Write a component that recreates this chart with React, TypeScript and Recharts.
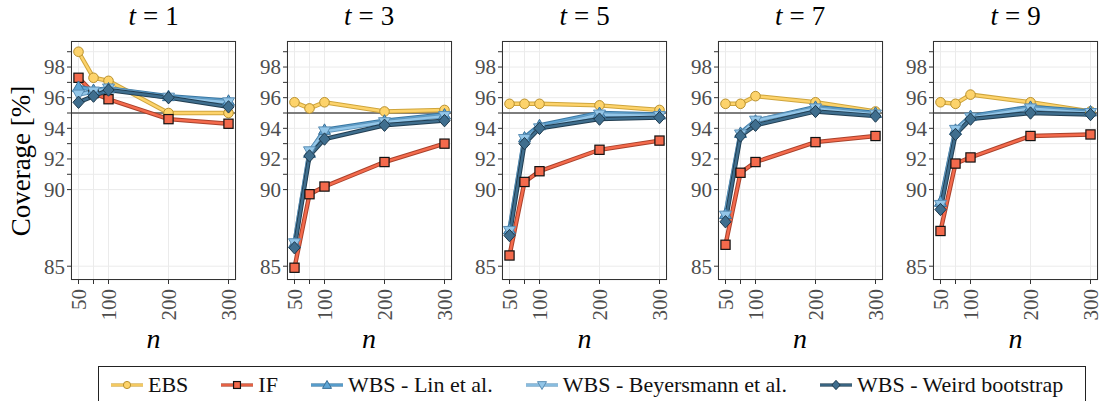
import React from 'react';
import { LineChart, Line, XAxis, YAxis, CartesianGrid, ReferenceLine } from 'recharts';

// sample sizes and time points
const nValues = [50, 75, 100, 200, 300];
const tValues = [1, 3, 5, 7, 9];

// coverage [%] per panel (t = 1, 3, 5, 7, 9), values at n = 50, 75, 100, 200, 300
const ebs = [
  [99.0, 97.3, 97.1, 95.0, 95.0],
  [95.7, 95.3, 95.7, 95.1, 95.2],
  [95.6, 95.6, 95.6, 95.5, 95.2],
  [95.6, 95.6, 96.1, 95.7, 95.1],
  [95.7, 95.6, 96.2, 95.7, 95.1],
];
const inf = [
  [97.3, 96.3, 95.9, 94.6, 94.3],
  [84.9, 89.7, 90.2, 91.8, 93.0],
  [85.7, 90.5, 91.2, 92.6, 93.2],
  [86.4, 91.1, 91.8, 93.1, 93.5],
  [87.3, 91.7, 92.1, 93.5, 93.6],
];
const wbsLin = [
  [96.7, 96.5, 96.6, 96.1, 95.8],
  [86.5, 92.4, 93.9, 94.5, 94.9],
  [87.4, 93.4, 94.2, 95.0, 94.9],
  [88.4, 93.7, 94.5, 95.4, 95.0],
  [89.2, 93.9, 94.8, 95.4, 95.1],
];
const wbsBey = [
  [96.2, 96.4, 96.6, 96.0, 95.7],
  [86.5, 92.5, 93.8, 94.4, 94.8],
  [87.3, 93.3, 94.0, 94.9, 94.8],
  [88.3, 93.6, 94.5, 95.3, 94.9],
  [89.0, 93.9, 94.7, 95.3, 95.0],
];
const wbsWeird = [
  [95.7, 96.1, 96.5, 96.0, 95.4],
  [86.2, 92.2, 93.3, 94.2, 94.5],
  [87.0, 93.0, 94.0, 94.6, 94.7],
  [87.9, 93.5, 94.2, 95.1, 94.8],
  [88.7, 93.6, 94.6, 95.0, 94.9],
];

const yTicks = [85, 90, 91, 92, 93, 94, 95, 96, 97, 98, 99];
const yLabelled = [85, 90, 92, 94, 96, 98];

const serif = '"Liberation Serif", "Times New Roman", Times, serif';

type Shape = 'circle' | 'square' | 'up' | 'down' | 'diamond';

const methods = [
  { key: 'ebs', name: 'EBS', values: ebs, fill: '#FDD36B', edge: '#CFA53C', mstroke: '#B8902E', shape: 'circle' as Shape },
  { key: 'inf', name: 'IF', values: inf, fill: '#F46A4C', edge: '#A9412B', mstroke: '#111111', shape: 'square' as Shape },
  { key: 'lin', name: 'WBS - Lin et al.', values: wbsLin, fill: '#5EA6D6', edge: '#3A77A2', mstroke: '#3A6F96', shape: 'up' as Shape },
  { key: 'bey', name: 'WBS - Beyersmann et al.', values: wbsBey, fill: '#93C6E8', edge: '#6096BC', mstroke: '#5C8FB5', shape: 'down' as Shape },
  { key: 'weird', name: 'WBS - Weird bootstrap', values: wbsWeird, fill: '#3F6E8E', edge: '#213E52', mstroke: '#1E3A4E', shape: 'diamond' as Shape },
];

function Marker({ cx, cy, shape, fill, stroke, s = 1 }: any) {
  if (cx == null || cy == null) return null;
  if (shape === 'circle') return <circle cx={cx} cy={cy} r={4.8 * s} fill={fill} stroke={stroke} strokeWidth={1} />;
  if (shape === 'square') {
    const h = 4.6 * s;
    return <rect x={cx - h} y={cy - h} width={2 * h} height={2 * h} fill={fill} stroke={stroke} strokeWidth={1.2} />;
  }
  if (shape === 'up') {
    const h = 6 * s;
    return <polygon points={`${cx},${cy - h} ${cx + h},${cy + h * 0.75} ${cx - h},${cy + h * 0.75}`} fill={fill} stroke={stroke} strokeWidth={1} />;
  }
  if (shape === 'down') {
    const h = 6 * s;
    return <polygon points={`${cx},${cy + h} ${cx + h},${cy - h * 0.75} ${cx - h},${cy - h * 0.75}`} fill={fill} stroke={stroke} strokeWidth={1} />;
  }
  const h = 6.2 * s;
  return <polygon points={`${cx},${cy - h} ${cx + h * 0.9},${cy} ${cx},${cy + h} ${cx - h * 0.9},${cy}`} fill={fill} stroke={stroke} strokeWidth={1} />;
}

const XTick = ({ x, y, payload }: any) => {
  if (payload.value === 75) return null;
  return (
    <text x={x} y={y} transform={`rotate(-90 ${x} ${y})`} textAnchor="end" dy="0.35em"
      fontSize={21} fill="#4D4D4D" fontFamily={serif}>{payload.value}</text>
  );
};

const PLOT_W = 165;
const PLOT_TOP = 41;
const PLOT_BOTTOM = 280;
const AXIS_W = 50;
const PAD_R = 12;

function Panel({ idx }: { idx: number }) {
  const plotLeft = 71 + 215.5 * idx;
  const data = nValues.map((n, i) => {
    const row: any = { n };
    methods.forEach((m) => { row[m.key] = m.values[idx][i]; });
    return row;
  });
  return (
    <>
      <div style={{ position: 'absolute', left: plotLeft, top: 1, width: PLOT_W, textAlign: 'center', fontSize: 27, lineHeight: '30px', fontFamily: serif }}>
        <i>t</i><span style={{ margin: '0 7px' }}>=</span>{tValues[idx]}
      </div>
      <div style={{ position: 'absolute', left: plotLeft - AXIS_W, top: 0 }}>
        <LineChart width={AXIS_W + PLOT_W + PAD_R} height={360} data={data} margin={{ top: PLOT_TOP, right: PAD_R, left: 0, bottom: 0 }}>
          <CartesianGrid stroke="#EBEBEB" strokeWidth={1} />
          <XAxis dataKey="n" type="number" domain={[37.5, 312.5]} ticks={nValues} interval={0}
            height={360 - PLOT_BOTTOM} axisLine={false} tickSize={4} tickMargin={5}
            tickLine={{ stroke: '#333' }} tick={<XTick />} allowDataOverflow />
          <YAxis type="number" domain={[84.1, 99.7]} ticks={yTicks} interval={0} width={AXIS_W}
            axisLine={false} tickSize={4} tickMargin={2} tickLine={{ stroke: '#333' }}
            tickFormatter={(v: number) => (yLabelled.includes(v) ? String(v) : '')}
            tick={{ fontSize: 21, fill: '#4D4D4D', fontFamily: serif }} allowDataOverflow />
          <ReferenceLine y={95} stroke="#555" strokeWidth={1.6} />
          {methods.flatMap((m) => [
            <Line key={m.key + '-edge'} dataKey={m.key} stroke={m.edge} strokeWidth={4.4} dot={false}
              isAnimationActive={false} legendType="none" />,
            <Line key={m.key} dataKey={m.key} stroke={m.fill} strokeWidth={2.4} isAnimationActive={false}
              dot={(p: any) => <Marker key={`${m.key}-${p.index}`} cx={p.cx} cy={p.cy} shape={m.shape} fill={m.fill} stroke={m.mstroke} />}
              activeDot={false} />,
          ])}
        </LineChart>
      </div>
      <div style={{ position: 'absolute', left: plotLeft, top: PLOT_TOP, width: PLOT_W, height: PLOT_BOTTOM - PLOT_TOP, border: '1px solid #333', boxSizing: 'border-box', pointerEvents: 'none' }} />
      <div style={{ position: 'absolute', left: plotLeft, top: 324, width: PLOT_W, textAlign: 'center', fontSize: 28, lineHeight: '30px', fontFamily: serif, fontStyle: 'italic' }}>
        n
      </div>
    </>
  );
}

function LegendBox() {
  return (
    <div style={{ position: 'absolute', left: 98, top: 366, width: 988, height: 44, border: '1.5px solid #222', boxSizing: 'border-box', background: '#fff',
      display: 'flex', alignItems: 'flex-start', paddingLeft: 11, paddingTop: 4, fontFamily: serif, fontSize: 22, lineHeight: '28px', color: '#111' }}>
      {methods.map((m, i) => (
        <div key={m.key} style={{ display: 'flex', alignItems: 'center', marginRight: i < methods.length - 1 ? 32 : 0, whiteSpace: 'nowrap' }}>
          <svg width={34} height={18} style={{ marginRight: 4 }}>
            <line x1={1} y1={9} x2={33} y2={9} stroke={m.edge} strokeWidth={3.2} />
            <line x1={1} y1={9} x2={33} y2={9} stroke={m.fill} strokeWidth={1.6} />
            <Marker cx={17} cy={9} shape={m.shape} fill={m.fill} stroke={m.mstroke} s={0.75} />
          </svg>
          <span>{m.name}</span>
        </div>
      ))}
    </div>
  );
}

export default function App() {
  return (
    <div style={{ position: 'absolute', left: 0, top: 0, width: 1102, height: 401, overflow: 'hidden', background: '#fff' }}>
      <div style={{ position: 'absolute', left: 21 - 100, top: 161 - 15, width: 200, height: 30, lineHeight: '30px', textAlign: 'center', fontSize: 27, fontFamily: serif, transform: 'rotate(-90deg)' }}>
        Coverage [%]
      </div>
      {tValues.map((_, i) => <Panel key={i} idx={i} />)}
      <LegendBox />
    </div>
  );
}
